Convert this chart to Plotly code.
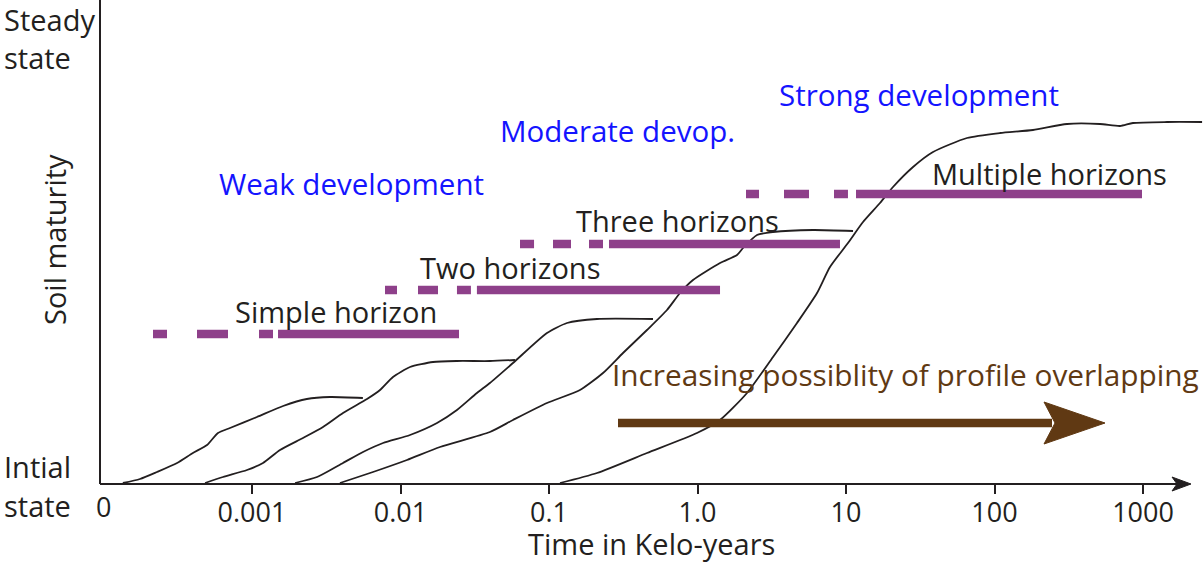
import plotly.graph_objects as go

# ---------------- data ----------------
# time in kilo-years (log axis), soil maturity (arbitrary units, 0 = initial state)
curve1_t = [1.35e-4, 1.76e-4, 2.29e-4, 3.13e-4, 4.0e-4, 4.98e-4, 5.9e-4, 7.11e-4,
            1.08e-3, 1.62e-3, 2.34e-3, 3.35e-3, 5.58e-3]
curve1_m = [0.25, 1.25, 3, 5.25, 7.75, 9.75, 12.75, 14, 16.75, 19.5, 21.25, 21.75, 21.5]

curve2_t = [4.83e-4, 6.38e-4, 9.25e-4, 1.186e-3, 1.544e-3, 2.205e-3, 3.007e-3, 4.10e-3,
            5.95e-3, 7.28e-3, 8.90e-3, 1.159e-2, 1.655e-2, 2.40e-2, 4.0e-2, 5.90e-2]
curve2_m = [0.25, 1.75, 3.5, 5.25, 8.5, 11.5, 14.25, 17.75, 21.25, 23.5, 26.75, 29.25,
            30.5, 30.75, 30.75, 31]

curve3_t = [1.95e-3, 2.74e-3, 4.10e-3, 5.59e-3, 7.63e-3, 1.159e-2, 1.762e-2, 2.40e-2,
            3.27e-2, 4.0e-2, 5.72e-2, 9.69e-2, 0.1322, 0.2105, 0.5017]
curve3_m = [0.25, 1.75, 5.25, 8, 10.25, 12.25, 15.25, 18.5, 22.75, 25.25, 30.25, 37.75,
            40.25, 41.25, 41.25]

curve4_t = [3.91e-3, 6.53e-3, 1.106e-2, 1.845e-2, 4.0e-2, 5.72e-2, 9.69e-2, 0.1617, 0.231,
            0.315, 0.457, 0.6231, 0.7625, 0.9326, 1.418, 1.845, 2.025, 2.516, 3.224,
            5.995, 11.15]
curve4_m = [0.25, 3, 6, 9.25, 13, 16, 20.25, 23.5, 27.75, 32.75, 38.5, 43.5, 47.75, 51,
            55.25, 57.25, 59, 62.25, 63, 63.5, 63.25]

curve5_t = [0.1186, 0.2105, 0.457, 0.992, 1.418, 2.154, 3.224, 4.677, 6.38, 7.80, 10.31,
            13.02, 16.94, 20.73, 28.27, 38.53, 65.27, 108.9, 181.7, 307.7, 513.3, 700,
            856, 1451, 2500]
curve5_m = [0.25, 2.75, 7.75, 12.75, 16, 22.75, 31.75, 40.25, 47.75, 54.25, 60.25, 65.5,
            70.25, 74.25, 79.25, 83, 86.5, 87.75, 88.5, 90, 90, 89.5, 90.25, 90.5, 90.5]

# horizon ranges: label, maturity level, dashed segments (start, end) in kilo-years
horizon_labels = ["Simple horizon", "Two horizons", "Three horizons", "Multiple horizons"]
horizon_levels = [37.5, 48.5, 60, 72.5]
horizon_segments = [
    [(2.154e-4, 2.677e-4), (4.26e-4, 6.89e-4), (1.114e-3, 1.385e-3), (1.497e-3, 2.477e-2)],
    [(7.86e-3, 9.47e-3), (1.312e-2, 1.789e-2), (2.40e-2, 2.98e-2), (3.27e-2, 1.418)],
    [(6.38e-2, 7.93e-2), (0.1064, 0.1407), (0.186, 0.231), (0.2535, 9.11)],
    [(2.121, 2.595), (3.823, 5.634), (8.30, 10.31), (11.68, 984.7)],
]

tick_vals = [0.001, 0.01, 0.1, 1, 10, 100, 1000]
tick_text = ["0.001", "0.01", "0.1", "1.0", "10", "100", "1000"]

stage_labels = ["Weak development", "Moderate devop.", "Strong development"]

# ---------------- figure ----------------
W, H = 1204, 563
L_M, R_M, T_M, B_M = 100, 0, 0, 79
PW, PH = W - L_M - R_M, H - T_M - B_M


def fx(px):
    return (px - L_M) / PW


def fy(py):
    return (T_M + PH - py) / PH


FONT = "Open Sans"
INK = "#231f20"
PURPLE = "#8e408a"
BLUE = "#1414ff"
BROWN = "#603913"

fig = go.Figure()

curves = [(curve1_t, curve1_m), (curve2_t, curve2_m), (curve3_t, curve3_m),
          (curve4_t, curve4_m), (curve5_t, curve5_m)]
for t, m in curves:
    fig.add_trace(go.Scatter(x=t, y=m, mode="lines",
                             line=dict(color=INK, width=1.8, shape="spline", smoothing=0.6),
                             hoverinfo="skip", showlegend=False))

for lvl, segs in zip(horizon_levels, horizon_segments):
    xs, ys = [], []
    for a, b in segs:
        xs += [a, b, None]
        ys += [lvl, lvl, None]
    fig.add_trace(go.Scatter(x=xs, y=ys, mode="lines",
                             line=dict(color=PURPLE, width=8.5),
                             hoverinfo="skip", showlegend=False))

ann = []


def add_text(text, px, py, color=INK, size=29, xanchor="center", angle=0):
    ann.append(dict(text=text, x=fx(px), y=fy(py), xref="paper", yref="paper",
                    xanchor=xanchor, yanchor="middle", showarrow=False, textangle=angle,
                    font=dict(family=FONT, size=size, color=color)))


# stage labels (blue)
for txt, (px, py) in zip(stage_labels, [(351, 183), (617, 130), (919, 95)]):
    add_text(txt, px, py, BLUE, size=29.5)

# horizon labels
for txt, (px, py) in zip(horizon_labels, [(336, 311), (510, 268), (677, 220), (1049, 173)]):
    add_text(txt, px, py)

add_text("Increasing possiblity of profile overlapping", 905, 374, BROWN, size=29.8)

# axis-related texts
add_text("Steady", 2, 20, xanchor="left")
add_text("state", 2, 57, xanchor="left")
add_text("Intial", 2, 466, xanchor="left")
add_text("state", 2, 505, xanchor="left")
add_text("Soil maturity", 54, 240, angle=-90)
add_text("Time in Kelo-years", 651, 543)
add_text("0", 103, 507, size=27)

shapes = [
    # y axis
    dict(type="line", xref="paper", yref="paper", x0=0, x1=0, y0=0, y1=1,
         line=dict(color=INK, width=2)),
    # x axis
    dict(type="line", xref="paper", yref="paper", x0=0, x1=fx(1180), y0=0, y1=0,
         line=dict(color=INK, width=2)),
    dict(type="path", xref="paper", yref="paper",
         path=f"M {fx(1191)},{fy(484)} L {fx(1172)},{fy(477)} L {fx(1177)},{fy(484)} "
              f"L {fx(1172)},{fy(491)} Z",
         fillcolor=INK, line=dict(color=INK, width=1)),
    # brown arrow
    dict(type="line", xref="paper", yref="paper", x0=fx(618), x1=fx(1052),
         y0=fy(423), y1=fy(423), line=dict(color=BROWN, width=8.5)),
    dict(type="path", xref="paper", yref="paper",
         path=f"M {fx(1105)},{fy(423)} L {fx(1044)},{fy(402)} L {fx(1055)},{fy(423)} "
              f"L {fx(1044)},{fy(444)} Z",
         fillcolor=BROWN, line=dict(color=BROWN, width=1)),
]

fig.update_layout(
    width=W, height=H, autosize=False,
    margin=dict(l=L_M, r=R_M, t=T_M, b=B_M, pad=0),
    paper_bgcolor="white", plot_bgcolor="white",
    showlegend=False,
    font=dict(family=FONT, color=INK),
    annotations=ann, shapes=shapes,
    xaxis=dict(type="log", range=[-4.0236, 3.4108], tickvals=tick_vals, ticktext=tick_text,
               ticks="outside", ticklen=9, tickwidth=1.5, tickcolor=INK,
               ticklabelstandoff=-4,
               showgrid=False, zeroline=False, showline=False,
               tickfont=dict(family=FONT, size=27, color=INK)),
    yaxis=dict(range=[0, 121], visible=False, showgrid=False, zeroline=False),
)

fig.write_html("out.html", config={"displayModeBar": False},
               post_script="document.body.style.margin='0';document.body.style.padding='0';"
                           "document.body.style.overflow='hidden';")
